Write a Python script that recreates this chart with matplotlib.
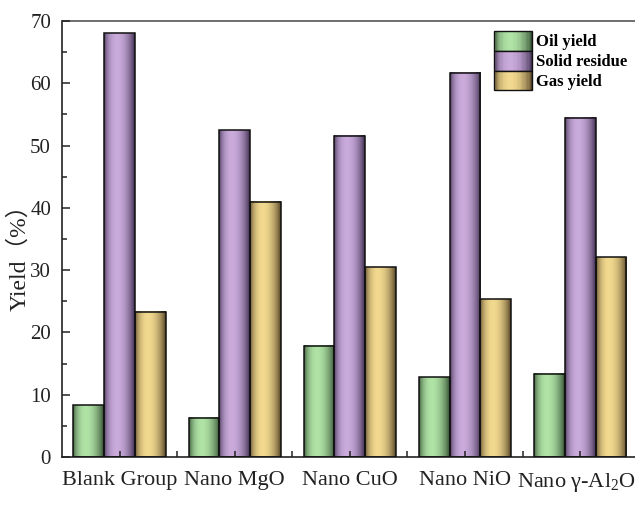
#Yield of pyrolysis products for different nano catalysts
import numpy as np
import matplotlib
matplotlib.use('Agg')
import matplotlib.pyplot as plt
from matplotlib.patches import Rectangle
from matplotlib.legend_handler import HandlerBase

categories = ['Blank Group', 'Nano MgO', 'Nano CuO', 'Nano NiO', r'Nano γ-Al$_2$O$_3$']
oil_yield = [8.3, 6.3, 17.9, 12.8, 13.4]
solid_residue = [68.0, 52.5, 51.6, 61.7, 54.5]
gas_yield = [23.3, 41.0, 30.5, 25.3, 32.1]
series_names = ['Oil yield', 'Solid residue', 'Gas yield']

# (light centre, dark edge) for the cylinder-like shading
shades = [((0.69, 0.89, 0.65), (0.13, 0.22, 0.13)),
          ((0.79, 0.67, 0.86), (0.18, 0.12, 0.25)),
          ((0.95, 0.85, 0.56), (0.25, 0.19, 0.10))]

plt.rcParams['font.family'] = ['Liberation Serif', 'DejaVu Serif']
plt.rcParams['mathtext.fontset'] = 'custom'
plt.rcParams['mathtext.rm'] = 'Liberation Serif'
plt.rcParams['mathtext.it'] = 'Liberation Serif:italic'


def shade_profile(t):
    return np.sin(np.pi * np.clip(t, 0, 1) ** 0.8) ** 0.65


def shade_color(light, dark, t):
    s = shade_profile(t)
    return tuple(d + (l - d) * s for l, d in zip(light, dark))


def gradient_row(light, dark, n=64):
    t = (np.arange(n) + 0.5) / n
    s = shade_profile(t)[:, None]
    light = np.array(light)[None, :]
    dark = np.array(dark)[None, :]
    return (dark + (light - dark) * s)[None, :, :]


class GradientHandler(HandlerBase):
    def __init__(self, light, dark):
        super().__init__()
        self.light = light
        self.dark = dark

    def create_artists(self, legend, orig_handle, xdescent, ydescent,
                       width, height, fontsize, trans):
        arts = []
        n = 30
        for i in range(n):
            t = (i + 0.5) / n
            r = Rectangle((-xdescent + i * width / n, -ydescent), width / n * 1.08, height,
                          facecolor=shade_color(self.light, self.dark, t),
                          edgecolor='none', transform=trans)
            arts.append(r)
        arts.append(Rectangle((-xdescent, -ydescent), width, height, fill=False,
                              edgecolor='#111111', lw=1.0, transform=trans))
        return arts


fig = plt.figure(figsize=(6.35, 5.19), dpi=100)
ax = fig.add_axes([62.15 / 635, 62 / 519, 575.5 / 635, 436 / 519])

x = np.arange(len(categories))
w = 0.268
data = [oil_yield, solid_residue, gas_yield]
offsets = [-w, 0, w]
handles = []
for vals, off, (light, dark), name in zip(data, offsets, shades, series_names):
    bars = ax.bar(x + off, vals, w, facecolor='none', edgecolor='#111111',
                  linewidth=1.1, zorder=3, label=name)
    grad = gradient_row(light, dark)
    for rect in bars:
        x0 = rect.get_x()
        ax.imshow(grad, extent=(x0, x0 + rect.get_width(), 0, rect.get_height()),
                  aspect='auto', zorder=2, interpolation='bilinear')
    handles.append(Rectangle((0, 0), 1, 1))

ax.set_xlim(-0.5, 4.5)
ax.set_ylim(0, 70)
ax.set_xticks(x)
ax.set_xticks([0.5, 1.5, 2.5, 3.5], minor=True)
ax.set_xticklabels(categories)
ax.set_yticks(np.arange(0, 71, 10))
ax.set_yticks(np.arange(5, 70, 10), minor=True)
ax.set_axisbelow(False)

ax.tick_params(axis='both', which='both', direction='in', top=False, right=False,
               colors='#222222', width=1.1)
ax.tick_params(axis='y', which='major', length=6, labelsize=15, pad=8)
ax.tick_params(axis='y', which='minor', length=3.5)
ax.tick_params(axis='x', which='major', length=4, labelsize=16, pad=10)
ax.tick_params(axis='x', which='minor', length=4)

for side in ['left', 'bottom']:
    ax.spines[side].set_color('#222222')
    ax.spines[side].set_linewidth(1.2)
ax.spines['top'].set_color('#555555')
ax.spines['top'].set_linewidth(1.2)
ax.spines['right'].set_visible(False)

ax.set_ylabel('Yield（%）', fontsize=17, family=['Liberation Serif', 'Noto Sans CJK SC'],
              color='#222222')
ax.yaxis.set_label_coords(-0.056, 0.47)

hmap = {h: GradientHandler(l, d) for h, (l, d) in zip(handles, shades)}
ax.legend(handles, series_names, handler_map=hmap, loc='upper left',
          bbox_to_anchor=(494 / 635, (519 - 31) / 519), bbox_transform=fig.transFigure,
          frameon=False, borderpad=0, borderaxespad=0, labelspacing=0,
          handlelength=2.3, handleheight=1.45, handletextpad=0.25,
          prop={'family': 'Liberation Serif', 'weight': 'bold', 'size': 12})

fig.savefig('out.png', dpi=100)
